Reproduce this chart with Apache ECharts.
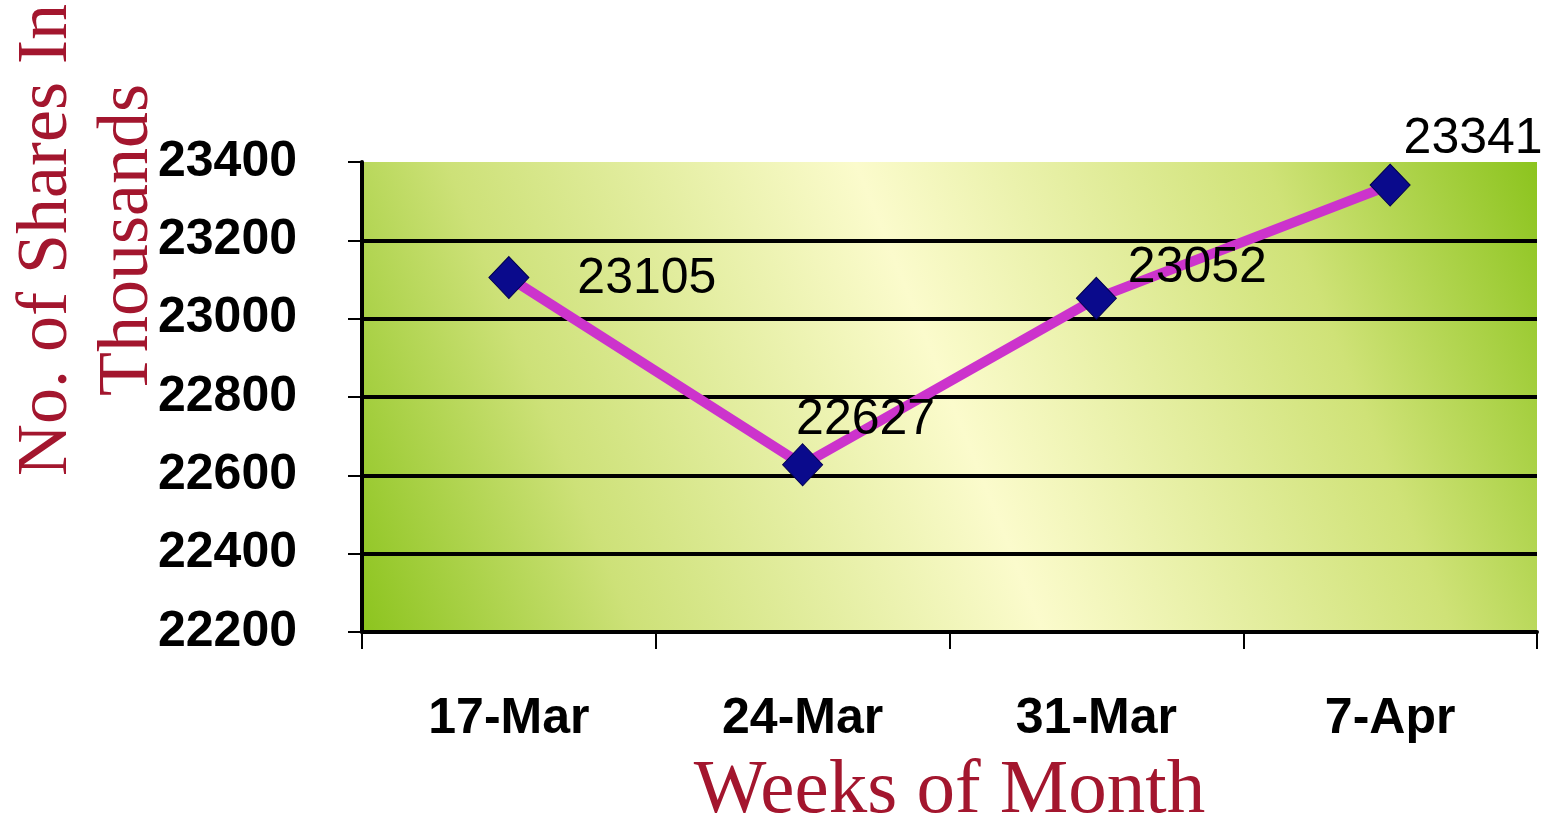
<!DOCTYPE html>
<html>
<head>
<meta charset="utf-8">
<style>
  html, body { margin: 0; padding: 0; background: #ffffff; }
  #chart { width: 1544px; height: 815px; }
</style>
<script src="https://cdn.jsdelivr.net/npm/echarts@6/dist/echarts.min.js"></script>
</head>
<body>
<div id="chart"></div>
<script>
var categories = ['17-Mar', '24-Mar', '31-Mar', '7-Apr'];
var shares = [23105, 22627, 23052, 23341];
var yMin = 22200;
var yMax = 23400;
var yStep = 200;
var xTitle = 'Weeks of Month';
var yTitle = 'No. of Shares In\nThousands';

var labelOffsets = [[48, 2], [-27, -45], [11, -30], [-7, -46]];

var chart = echarts.init(document.getElementById('chart'), null, { renderer: 'canvas' });

var seriesData = shares.map(function (v, i) {
  return { value: v, label: { offset: labelOffsets[i] } };
});

var titleColor = '#a3162e';

var option = {
  animation: false,
  backgroundColor: '#ffffff',
  grid: {
    left: 362, right: 7, top: 162, bottom: 183,
    outerBoundsMode: 'none',
    containLabel: false,
    show: true,
    borderWidth: 0,
    backgroundColor: new echarts.graphic.LinearGradient(0, 1, 1, 0, [
      { offset: 0, color: '#8cc41e' },
      { offset: 0.2, color: '#cde178' },
      { offset: 0.5, color: '#fbfbcc' },
      { offset: 0.8, color: '#cfe277' },
      { offset: 1, color: '#8cc41e' }
    ])
  },
  graphic: [{
    type: 'text',
    rotation: Math.PI / 2,
    x: 88, y: 240,
    style: {
      text: yTitle,
      font: '72px "Liberation Serif", "Times New Roman", serif',
      fill: titleColor,
      textAlign: 'center',
      textVerticalAlign: 'middle',
      lineHeight: 81
    }
  }],
  xAxis: {
    type: 'category',
    data: categories,
    boundaryGap: true,
    name: xTitle,
    nameLocation: 'middle',
    nameGap: 121,
    nameTextStyle: {
      fontFamily: '"Liberation Serif", "Times New Roman", serif',
      fontSize: 77,
      color: titleColor
    },
    axisLine: { show: true, lineStyle: { color: '#000', width: 4 } },
    axisTick: { show: true, alignWithLabel: false, length: 17, lineStyle: { color: '#000', width: 2 } },
    axisLabel: {
      margin: 62,
      fontFamily: '"Liberation Sans", Arial, sans-serif',
      fontWeight: 'bold',
      fontSize: 50,
      color: '#000'
    },
    splitLine: { show: false }
  },
  yAxis: {
    type: 'value',
    min: yMin,
    max: yMax,
    interval: yStep,
    axisLine: { show: true, lineStyle: { color: '#000', width: 4 } },
    axisTick: { show: true, length: 14, lineStyle: { color: '#000', width: 2 } },
    axisLabel: {
      margin: 65,
      formatter: function (v) { return String(v); },
      fontFamily: '"Liberation Sans", Arial, sans-serif',
      fontWeight: 'bold',
      fontSize: 50,
      color: '#000'
    },
    splitLine: { show: true, showMinLine: false, showMaxLine: false, lineStyle: { color: '#000', width: 4 } }
  },
  series: [{
    type: 'line',
    data: seriesData,
    symbol: 'diamond',
    symbolSize: [40, 42],
    lineStyle: { color: '#cc33cc', width: 10 },
    itemStyle: { color: '#0a0a8c', borderColor: '#000050', borderWidth: 1 },
    label: {
      show: true,
      position: 'right',
      distance: 0,
      fontFamily: '"Liberation Sans", Arial, sans-serif',
      fontSize: 50,
      color: '#000'
    },
    z: 3
  }]
};

chart.setOption(option);
</script>
</body>
</html>
